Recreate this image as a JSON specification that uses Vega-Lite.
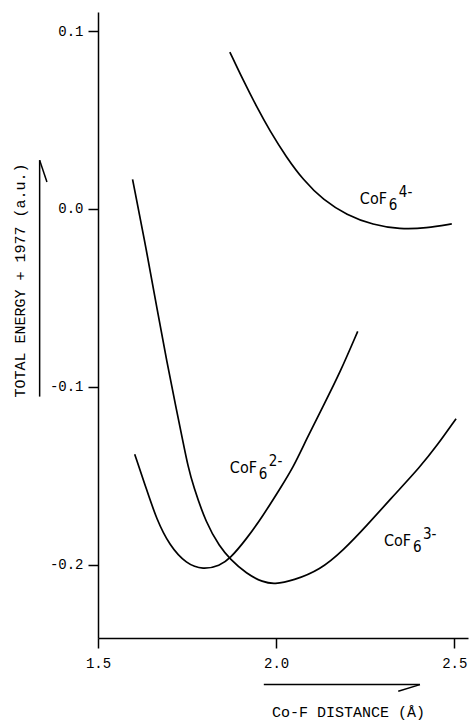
{
  "$schema": "https://vega.github.io/schema/vega-lite/v6.json",
  "width": 370,
  "height": 626,
  "autosize": {"type": "none"},
  "padding": {"left": 98, "top": 12, "right": 6, "bottom": 82},
  "background": "white",
  "config": {
    "view": {"stroke": null},
    "axis": {"grid": false}
  },
  "datasets": {
    "curves": [
      {"ion": "4-", "r": 1.870, "E": 0.0882},
      {"ion": "4-", "r": 1.907, "E": 0.0725},
      {"ion": "4-", "r": 1.945, "E": 0.0575},
      {"ion": "4-", "r": 1.982, "E": 0.0440},
      {"ion": "4-", "r": 2.029, "E": 0.0290},
      {"ion": "4-", "r": 2.076, "E": 0.0163},
      {"ion": "4-", "r": 2.132, "E": 0.0050},
      {"ion": "4-", "r": 2.198, "E": -0.0034},
      {"ion": "4-", "r": 2.272, "E": -0.0090},
      {"ion": "4-", "r": 2.347, "E": -0.0114},
      {"ion": "4-", "r": 2.422, "E": -0.0108},
      {"ion": "4-", "r": 2.493, "E": -0.0084},
      {"ion": "3-", "r": 1.597, "E": 0.0166},
      {"ion": "3-", "r": 1.636, "E": -0.0230},
      {"ion": "3-", "r": 1.666, "E": -0.0566},
      {"ion": "3-", "r": 1.692, "E": -0.0846},
      {"ion": "3-", "r": 1.720, "E": -0.1127},
      {"ion": "3-", "r": 1.739, "E": -0.1313},
      {"ion": "3-", "r": 1.753, "E": -0.1450},
      {"ion": "3-", "r": 1.767, "E": -0.1555},
      {"ion": "3-", "r": 1.804, "E": -0.1770},
      {"ion": "3-", "r": 1.842, "E": -0.1900},
      {"ion": "3-", "r": 1.870, "E": -0.1967},
      {"ion": "3-", "r": 1.917, "E": -0.2052},
      {"ion": "3-", "r": 1.963, "E": -0.2098},
      {"ion": "3-", "r": 1.995, "E": -0.2110},
      {"ion": "3-", "r": 2.048, "E": -0.2089},
      {"ion": "3-", "r": 2.123, "E": -0.2030},
      {"ion": "3-", "r": 2.188, "E": -0.1920},
      {"ion": "3-", "r": 2.254, "E": -0.1781},
      {"ion": "3-", "r": 2.329, "E": -0.1613},
      {"ion": "3-", "r": 2.404, "E": -0.1450},
      {"ion": "3-", "r": 2.451, "E": -0.1332},
      {"ion": "3-", "r": 2.505, "E": -0.1179},
      {"ion": "2-", "r": 1.603, "E": -0.1379},
      {"ion": "2-", "r": 1.636, "E": -0.1575},
      {"ion": "2-", "r": 1.664, "E": -0.1743},
      {"ion": "2-", "r": 1.701, "E": -0.1893},
      {"ion": "2-", "r": 1.748, "E": -0.1996},
      {"ion": "2-", "r": 1.795, "E": -0.2029},
      {"ion": "2-", "r": 1.842, "E": -0.2005},
      {"ion": "2-", "r": 1.870, "E": -0.1967},
      {"ion": "2-", "r": 1.917, "E": -0.1855},
      {"ion": "2-", "r": 1.963, "E": -0.1725},
      {"ion": "2-", "r": 2.010, "E": -0.1575},
      {"ion": "2-", "r": 2.048, "E": -0.1453},
      {"ion": "2-", "r": 2.085, "E": -0.1295},
      {"ion": "2-", "r": 2.132, "E": -0.1108},
      {"ion": "2-", "r": 2.179, "E": -0.0921},
      {"ion": "2-", "r": 2.229, "E": -0.0688}
    ],
    "labels": [
      {"ion": "4-", "r": 2.235, "E": 0.0028},
      {"ion": "2-", "r": 1.870, "E": -0.1482},
      {"ion": "3-", "r": 2.3025, "E": -0.1896}
    ]
  },
  "layer": [
    {
      "data": {"name": "curves"},
      "mark": {"type": "line", "interpolate": "basis", "color": "black", "strokeWidth": 1.7},
      "encoding": {
        "x": {
          "field": "r", "type": "quantitative",
          "scale": {"domain": [1.5, 2.5385], "nice": false, "zero": false},
          "axis": {
            "title": "Co-F DISTANCE (Å)",
            "values": [1.5, 2.0, 2.5],
            "format": ".1f",
            "labelFlush": false,
            "labelOverlap": false,
            "labelBound": false,
            "domainColor": "black", "domainWidth": 1.5,
            "tickColor": "black", "tickWidth": 1.5, "tickSize": 10,
            "labelFont": "Liberation Mono", "labelFontSize": 14, "labelColor": "black", "labelPadding": 8,
            "titleFont": "Liberation Mono", "titleFontSize": 15, "titleFontWeight": "normal", "titleColor": "black",
            "titleX": 250, "titleY": 78, "titleAlign": "center", "titleBaseline": "alphabetic"
          }
        },
        "y": {
          "field": "E", "type": "quantitative",
          "scale": {"domain": [-0.2412, 0.1107], "nice": false, "zero": false},
          "axis": {
            "title": "TOTAL ENERGY + 1977 (a.u.)",
            "values": [-0.2, -0.1, 0, 0.1],
            "labelExpr": "datum.value < 0 ? '-' + format(-datum.value, '.1f') : format(datum.value, '.1f')",
            "labelFlush": false,
            "labelOverlap": false,
            "labelBound": false,
            "domainColor": "black", "domainWidth": 1.5,
            "tickColor": "black", "tickWidth": 1.5, "tickSize": 10,
            "labelFont": "Liberation Mono", "labelFontSize": 14, "labelColor": "black", "labelPadding": 5,
            "titleFont": "Liberation Mono", "titleFontSize": 15, "titleFontWeight": "normal", "titleColor": "black",
            "titleX": -74, "titleY": 268, "titleAngle": -90, "titleAlign": "center", "titleBaseline": "alphabetic"
          }
        },
        "detail": {"field": "ion", "type": "nominal"}
      }
    },
    {
      "data": {"name": "labels"},
      "mark": {"type": "text", "text": "CoF", "align": "left", "baseline": "alphabetic", "font": "DejaVu Sans Condensed, DejaVu Sans, sans-serif", "fontSize": 16, "color": "black"},
      "encoding": {
        "x": {"field": "r", "type": "quantitative"},
        "y": {"field": "E", "type": "quantitative"}
      }
    },
    {
      "data": {"name": "labels"},
      "mark": {"type": "text", "text": "6", "align": "left", "baseline": "alphabetic", "dx": 29, "dy": 6, "font": "DejaVu Sans Condensed, DejaVu Sans, sans-serif", "fontSize": 15, "color": "black"},
      "encoding": {
        "x": {"field": "r", "type": "quantitative"},
        "y": {"field": "E", "type": "quantitative"}
      }
    },
    {
      "data": {"name": "labels"},
      "mark": {"type": "text", "align": "left", "baseline": "alphabetic", "dx": 39, "dy": -7, "font": "DejaVu Sans Condensed, DejaVu Sans, sans-serif", "fontSize": 15, "color": "black"},
      "encoding": {
        "x": {"field": "r", "type": "quantitative"},
        "y": {"field": "E", "type": "quantitative"},
        "text": {"field": "ion", "type": "nominal"}
      }
    },
    {
      "data": {"values": [{}]},
      "mark": {"type": "rule", "color": "black", "strokeWidth": 1.5},
      "encoding": {
        "x": {"datum": 1.3362}, "x2": {"datum": 1.3362},
        "y": {"datum": 0.0274}, "y2": {"datum": -0.1055}
      }
    },
    {
      "data": {"values": [{}]},
      "mark": {"type": "rule", "color": "black", "strokeWidth": 1.5},
      "encoding": {
        "x": {"datum": 1.3362}, "x2": {"datum": 1.3567},
        "y": {"datum": 0.0274}, "y2": {"datum": 0.0152}
      }
    },
    {
      "data": {"values": [{}]},
      "mark": {"type": "rule", "color": "black", "strokeWidth": 1.5},
      "encoding": {
        "x": {"datum": 1.9654}, "x2": {"datum": 2.4037},
        "y": {"datum": -0.2674}, "y2": {"datum": -0.2674}
      }
    },
    {
      "data": {"values": [{}]},
      "mark": {"type": "rule", "color": "black", "strokeWidth": 1.5},
      "encoding": {
        "x": {"datum": 2.4037}, "x2": {"datum": 2.3427},
        "y": {"datum": -0.2674}, "y2": {"datum": -0.2711}
      }
    }
  ]
}
